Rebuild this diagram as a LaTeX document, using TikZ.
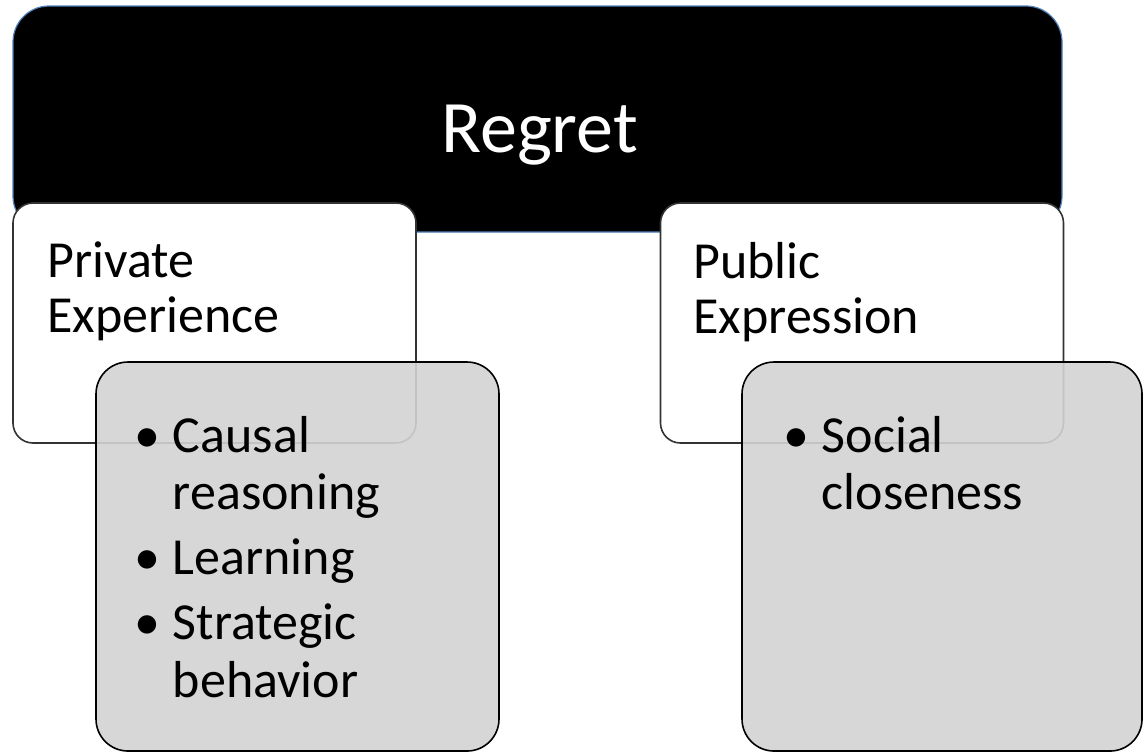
\documentclass[tikz,border=0pt]{standalone}
\usepackage{fontspec}
\setmainfont{Carlito}
\usetikzlibrary{positioning}
\definecolor{edgeblue}{RGB}{79,129,189}
\definecolor{boxgray}{RGB}{211,211,211}

\begin{document}
\begin{tikzpicture}[x=0.5pt,y=-0.5pt,
	topbox/.style={draw=edgeblue,fill=black,rounded corners=18pt,line width=0.6pt,minimum width=524.5pt,minimum height=113pt,inner sep=0pt},
	sidebox/.style={draw=black!80,fill=white,rounded corners=10pt,line width=0.8pt,minimum width=201.5pt,minimum height=120pt,inner sep=0pt},
	listbox/.style={draw=black,fill=boxgray,fill opacity=0.9,text opacity=1,rounded corners=16pt,line width=0.8pt,minimum height=194.5pt,inner sep=0pt},
	toptext/.style={text=white,font=\fontsize{37}{44}\selectfont,inner sep=0pt,anchor=base},
	sidetext/.style={font=\fontsize{26}{27.5}\selectfont,align=left,inner sep=0pt,anchor=base west},
	listtext/.style={font=\fontsize{26}{28.75}\selectfont,inner sep=0pt,anchor=base west}
	]
	\useasboundingbox (0,0) rectangle (1143,752);
	\node[topbox] (regret) at (537.5,119) {};
	\node[toptext] (regrettext) at ([xshift=1pt,yshift=-16.5pt]regret.center) {Regret};
	\node[sidebox] (private) at (214.5,323) {};
	\node[sidebox] (public) at (862,323) {};
	\node[sidetext] (privatetext) at (47,332) {Private\\Experience};
	\node[sidetext] (publictext) at (693,333) {Public\\Expression};
	\node[listbox,minimum width=201.5pt] (privatelist) at (297.5,556.5) {};
	\node[listbox,minimum width=200pt] (publiclist) at (942,556.5) {};
	\node[listtext] (privateitems) at (134,452) {\begin{tabular}[t]{@{}l@{\hspace{6.3pt}}l@{}}
			\textbullet & Causal\\
			& reasoning\\[3.75pt]
			\textbullet & Learning\\[3.75pt]
			\textbullet & Strategic\\
			& behavior
		\end{tabular}};
	\node[listtext] (publicitems) at (783,452) {\begin{tabular}[t]{@{}l@{\hspace{6.3pt}}l@{}}
			\textbullet & Social\\
			& closeness
		\end{tabular}};
\end{tikzpicture}
\end{document}
